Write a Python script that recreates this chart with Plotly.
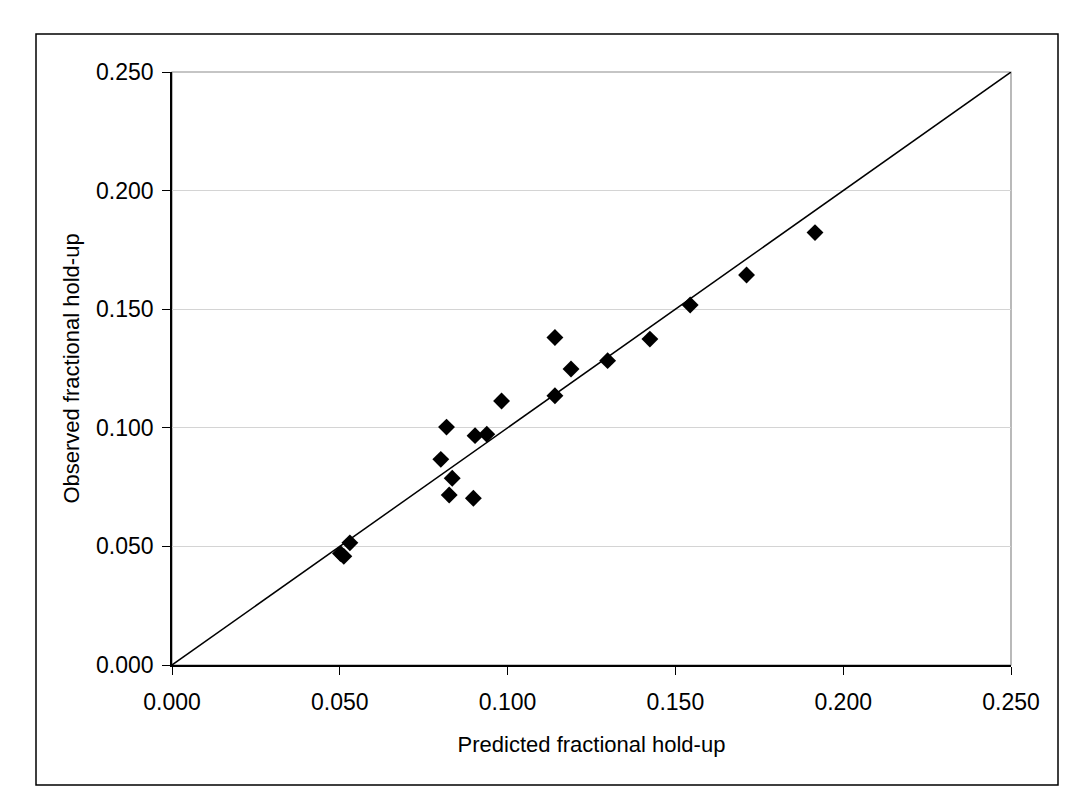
import plotly.graph_objects as go

predicted = [0.0502, 0.0512, 0.0530, 0.0801, 0.0818, 0.0826, 0.0835, 0.0898, 0.0903,
             0.0938, 0.0982, 0.1141, 0.1141, 0.1189, 0.1298, 0.1424, 0.1544, 0.1712, 0.1916]
observed = [0.0470, 0.0458, 0.0515, 0.0867, 0.1003, 0.0717, 0.0787, 0.0703, 0.0967,
            0.0973, 0.1113, 0.1381, 0.1135, 0.1248, 0.1283, 0.1374, 0.1518, 0.1644, 0.1823]
parity = [0.0, 0.25]
tick_vals = [0.0, 0.05, 0.10, 0.15, 0.20, 0.25]

FONT = "Liberation Sans, Arial, sans-serif"

fig = go.Figure()
fig.add_trace(go.Scatter(x=parity, y=parity, mode="lines",
                         line=dict(color="black", width=1.5), showlegend=False,
                         hoverinfo="skip"))
fig.add_trace(go.Scatter(x=predicted, y=observed, mode="markers",
                         marker=dict(symbol="diamond", size=13, color="black",
                                     line=dict(width=0)),
                         showlegend=False))

fig.update_layout(
    width=1088, height=804,
    margin=dict(l=172, r=77, t=72, b=139),
    paper_bgcolor="white", plot_bgcolor="white",
    font=dict(family=FONT, size=22, color="black"),
    xaxis=dict(range=[0, 0.25], tickvals=tick_vals, tickformat=".3f",
               showgrid=False, zeroline=False,
               showline=True, linecolor="black", linewidth=1.5,
               ticks="outside", ticklen=8, tickcolor="black", tickwidth=1,
               tickfont=dict(size=23), ticklabelstandoff=8,
               title=dict(text="Predicted fractional hold-up", font=dict(size=22), standoff=22)),
    yaxis=dict(range=[0, 0.25], tickvals=tick_vals, tickformat=".3f",
               showgrid=True, gridcolor="#d4d4d4", gridwidth=1.2, zeroline=False,
               showline=True, linecolor="black", linewidth=1.5,
               ticks="outside", ticklen=8, tickcolor="black", tickwidth=1,
               tickfont=dict(size=23), ticklabelstandoff=4,
               title=dict(text="Observed fractional hold-up", font=dict(size=22), standoff=10)),
    shapes=[
        dict(type="rect", xref="paper", yref="paper", x0=0, x1=1, y0=0, y1=1,
             line=dict(color="#8c8c8c", width=1.2), layer="below"),
        dict(type="rect", xref="paper", yref="paper",
             x0=(36 - 172) / 839, x1=(1058 - 172) / 839,
             y0=(665 - 785) / 593, y1=(665 - 34) / 593,
             line=dict(color="black", width=1.5), layer="below"),
    ],
)

fig.write_html("out.html")
